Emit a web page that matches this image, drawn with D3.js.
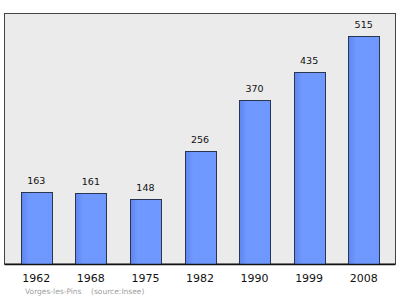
<!doctype html>
<html>
<head>
<meta charset="utf-8">
<style>
  body { margin: 0; background: #fff; }
  text { font-family: "DejaVu Sans", sans-serif; }
</style>
</head>
<body>
<svg id="chart" width="400" height="299"></svg>
<script src="https://d3js.org/d3.v7.min.js"></script>
<script>
const years = ['1962', '1968', '1975', '1982', '1990', '1999', '2008'];
const population = [163, 161, 148, 256, 370, 435, 515];
const caption = 'Vorges-les-Pins    (source:Insee)';

const svg = d3.select('#chart');
const plot = { left: 4.5, top: 13.5, right: 395.5, bottom: 264 };

const defs = svg.append('defs');
const grad = defs.append('linearGradient').attr('id', 'barGrad');
grad.append('stop').attr('offset', '0%').attr('stop-color', '#5f85ee');
grad.append('stop').attr('offset', '25%').attr('stop-color', '#7099ff');
grad.append('stop').attr('offset', '100%').attr('stop-color', '#6e98ff');

svg.append('rect')
  .attr('x', plot.left).attr('y', plot.top)
  .attr('width', plot.right - plot.left).attr('height', plot.bottom - plot.top)
  .attr('fill', '#ebebeb')
  .attr('stroke', '#444').attr('stroke-width', 1);

const x = d3.scaleBand()
  .domain(years)
  .range([plot.left, plot.right])
  .paddingInner(0.434)
  .paddingOuter(0.3);

const y = d3.scaleLinear()
  .domain([0, d3.max(population) * 1.1])
  .range([plot.bottom, plot.top]);

const data = years.map((yr, i) => ({ year: yr, value: population[i] }));

svg.append('g').selectAll('rect')
  .data(data)
  .join('rect')
  .attr('x', d => Math.round(x(d.year)) + 0.5)
  .attr('y', d => Math.round(y(d.value)) + 0.5)
  .attr('width', Math.round(x.bandwidth()))
  .attr('height', d => Math.round(plot.bottom - y(d.value)))
  .attr('fill', 'url(#barGrad)')
  .attr('stroke', '#2a3550')
  .attr('stroke-width', 1);

svg.append('g').selectAll('text')
  .data(data)
  .join('text')
  .attr('x', d => x(d.year) + x.bandwidth() / 2)
  .attr('y', d => y(d.value) - 8)
  .attr('text-anchor', 'middle')
  .attr('font-size', 9.5)
  .attr('fill', '#111')
  .text(d => d.value);

// baseline
svg.append('line')
  .attr('x1', plot.left).attr('x2', plot.right)
  .attr('y1', plot.bottom + 0.5).attr('y2', plot.bottom + 0.5)
  .attr('stroke', '#111').attr('stroke-width', 1.5);

const xAxis = d3.axisBottom(x).tickSize(0).tickPadding(0);
const gx = svg.append('g')
  .attr('transform', `translate(0,${plot.bottom})`)
  .call(xAxis);
gx.select('.domain').remove();
gx.selectAll('text')
  .attr('dy', null)
  .attr('y', 18)
  .attr('font-size', 11)
  .attr('fill', '#111')
  .style('font-family', '"DejaVu Sans", sans-serif');

svg.append('text')
  .attr('x', 25).attr('y', 294)
  .attr('font-size', 7.5)
  .attr('fill', '#a0a0a0')
  .attr('xml:space', 'preserve')
  .style('white-space', 'pre')
  .text(caption);
</script>
</body>
</html>
